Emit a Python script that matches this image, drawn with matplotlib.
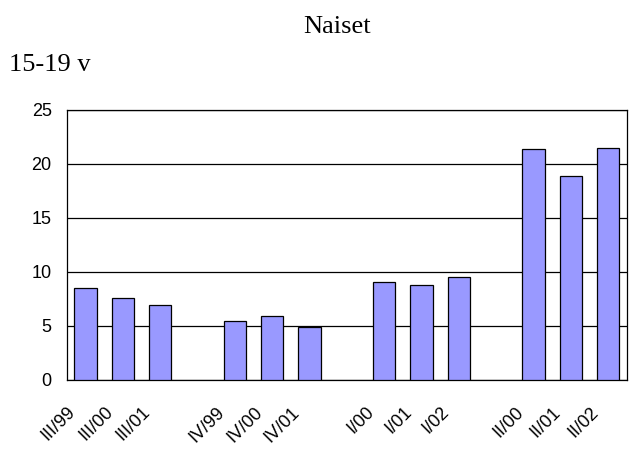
import matplotlib.pyplot as plt

# quarters grouped by season, each group drawn with a gap after it
groups = [
    ["III/99", "III/00", "III/01"],
    ["IV/99", "IV/00", "IV/01"],
    ["I/00", "I/01", "I/02"],
    ["II/00", "II/01", "II/02"],
]
values = [
    [8.5, 7.6, 6.9],
    [5.5, 5.9, 4.9],
    [9.1, 8.8, 9.5],
    [21.4, 18.9, 21.5],
]

fig = plt.figure(figsize=(6.29, 4.5), dpi=100)
ax = fig.add_axes([0.1065, 0.1556, 0.89, 0.6])

xs, hs, labels = [], [], []
for g, (names, vals) in enumerate(zip(groups, values)):
    for i, (n, v) in enumerate(zip(names, vals)):
        xs.append(g * 4 + i)
        hs.append(v)
        labels.append(n)

ax.bar(xs, hs, width=0.6, color="#9999ff", edgecolor="black", linewidth=0.9, zorder=3)

ax.set_xlim(-0.5, 14.5)
ax.set_ylim(0, 25)
ax.set_yticks([0, 5, 10, 15, 20, 25])
ax.yaxis.grid(True, color="black", linewidth=0.9)
ax.set_axisbelow(True)

# category labels under the bars, slanted
ax.set_xticks(xs)
ax.set_xticklabels([])
ax.tick_params(axis="x", length=0)
for x, lab in zip(xs, labels):
    ax.annotate(lab, xy=(x, 0), xycoords=("data", "axes fraction"),
                xytext=(-9, -21.5), textcoords="offset points",
                rotation=45, ha="right", va="center", rotation_mode="anchor",
                fontsize=13, family="Liberation Sans")

ax.tick_params(axis="y", length=0, labelsize=13, pad=11)
for lab in ax.get_yticklabels():
    lab.set_family("Liberation Sans")
for s in ax.spines.values():
    s.set_linewidth(0.9)

fig.text(0.536, 0.927, "Naiset", ha="center", va="baseline",
         fontsize=19, family="Liberation Serif")
fig.text(0.014, 0.842, "15-19 v", ha="left", va="baseline",
         fontsize=19, family="Liberation Serif")

fig.savefig("out.png", dpi=100)
